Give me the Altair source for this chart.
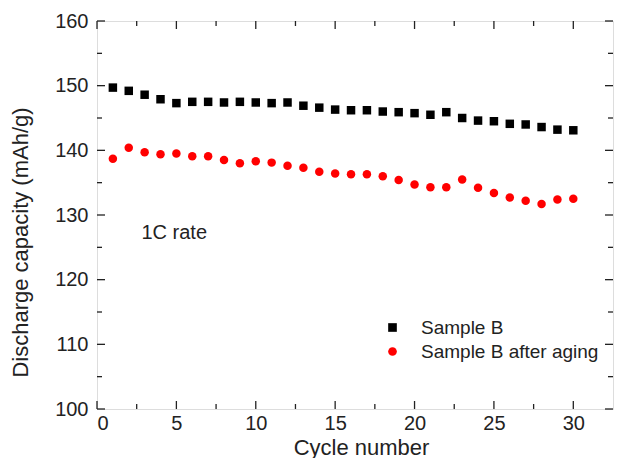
import altair as alt
import pandas as pd

cycles = list(range(1, 31))
sample_b = [149.7, 149.2, 148.6, 147.9, 147.3, 147.5, 147.5, 147.4, 147.5, 147.4,
            147.3, 147.4, 146.9, 146.6, 146.3, 146.2, 146.2, 146.0, 145.9, 145.75,
            145.5, 145.9, 145.0, 144.6, 144.5, 144.1, 144.0, 143.6, 143.2, 143.1]
sample_b_aged = [138.7, 140.4, 139.7, 139.4, 139.5, 139.1, 139.1, 138.5, 138.0, 138.3,
                 138.1, 137.6, 137.3, 136.7, 136.4, 136.3, 136.3, 136.0, 135.4, 134.7,
                 134.3, 134.3, 135.5, 134.2, 133.4, 132.7, 132.2, 131.7, 132.4, 132.5]
series_names = ["Sample B", "Sample B after aging"]

x_major = [0, 5, 10, 15, 20, 25, 30]
x_minor = [2.5, 7.5, 12.5, 17.5, 22.5, 27.5]
y_major = [100, 110, 120, 130, 140, 150, 160]
y_minor = [105, 115, 125, 135, 145, 155]

annotation_text = "1C rate"
annotation_x = 2.8
annotation_y = 127.2

W, H = 516, 388
FONT = "Liberation Sans"

df = pd.DataFrame({
    "cycle": cycles * 2,
    "cap": sample_b + sample_b_aged,
    "series": [series_names[0]] * 30 + [series_names[1]] * 30,
})

xs = alt.Scale(domain=[0, 32.5], nice=False, zero=False)
ys = alt.Scale(domain=[100, 160], nice=False, zero=False)

ax_x = alt.Axis(values=x_major, title="Cycle number", ticks=False, domain=False,
                grid=False, labelFontSize=20, labelPadding=4, labelFont=FONT,
                labelColor="#222", titleFont=FONT, titleFontSize=22,
                titleFontWeight="normal", titleColor="#222",
                titleX=W / 2 + 6, titleY=38, titleBaseline="middle")
ax_y = alt.Axis(values=y_major, title="Discharge capacity (mAh/g)", ticks=False,
                domain=False, grid=False, labelFontSize=20, labelPadding=9,
                labelFont=FONT, labelColor="#222", titleFont=FONT,
                titleFontSize=22, titleFontWeight="normal", titleColor="#222",
                titleX=-77, titleY=221, titleBaseline="middle", titleAlign="center")

points = alt.Chart(df).mark_point(filled=True, opacity=1, size=72).encode(
    x=alt.X("cycle:Q", scale=xs, axis=ax_x, title="Cycle number"),
    y=alt.Y("cap:Q", scale=ys, axis=ax_y, title="Discharge capacity (mAh/g)"),
    color=alt.Color("series:N",
                    scale=alt.Scale(domain=series_names, range=["black", "red"]),
                    legend=alt.Legend(title=None, orient="none", legendX=286, legendY=297,
                                      labelFontSize=19, labelFont=FONT, labelColor="#222",
                                      labelLimit=400,
                                      symbolSize=75, symbolStrokeWidth=0, rowPadding=4,
                                      padding=0, labelOffset=19)),
    shape=alt.Shape("series:N",
                    scale=alt.Scale(domain=series_names, range=["square", "circle"]),
                    legend=None),
)

text = alt.Chart(pd.DataFrame({"cycle": [annotation_x], "cap": [annotation_y],
                               "t": [annotation_text]})).mark_text(
    align="left", baseline="middle", fontSize=20, font=FONT, color="#222").encode(
    x=alt.X("cycle:Q", scale=xs, axis=ax_x, title="Cycle number"),
    y=alt.Y("cap:Q", scale=ys, axis=ax_y, title="Discharge capacity (mAh/g)"),
    text="t:N",
)

def yticks(vals, length):
    d = pd.DataFrame({"cap": vals})
    enc_y = alt.Y("cap:Q", scale=ys, axis=ax_y, title="Discharge capacity (mAh/g)")
    left = alt.Chart(d).mark_rule(color="#222", strokeWidth=1.3).encode(
        y=enc_y, x=alt.value(0), x2=alt.value(length))
    right = alt.Chart(d).mark_rule(color="#222", strokeWidth=1.3).encode(
        y=enc_y, x=alt.value(W - length), x2=alt.value(W))
    return [left, right]

def xticks(vals, length):
    d = pd.DataFrame({"cycle": vals})
    enc_x = alt.X("cycle:Q", scale=xs, axis=ax_x, title="Cycle number")
    bottom = alt.Chart(d).mark_rule(color="#222", strokeWidth=1.3).encode(
        x=enc_x, y=alt.value(H - length), y2=alt.value(H))
    top = alt.Chart(d).mark_rule(color="#222", strokeWidth=1.3).encode(
        x=enc_x, y=alt.value(0), y2=alt.value(length))
    return [bottom, top]

layers = [points, text] + yticks(y_major, 8) + yticks(y_minor, 5) + xticks(x_major, 8) + xticks(x_minor, 5)

chart = alt.layer(*layers).properties(
    width=W, height=H,
    autosize=alt.AutoSizeParams(type="none"),
    padding={"left": 89, "top": 13, "right": 1, "bottom": 49},
).configure_view(stroke="#222", strokeWidth=1.5).configure(background="white")

chart.save("out.html", embed_options={"renderer": "svg", "actions": False})
